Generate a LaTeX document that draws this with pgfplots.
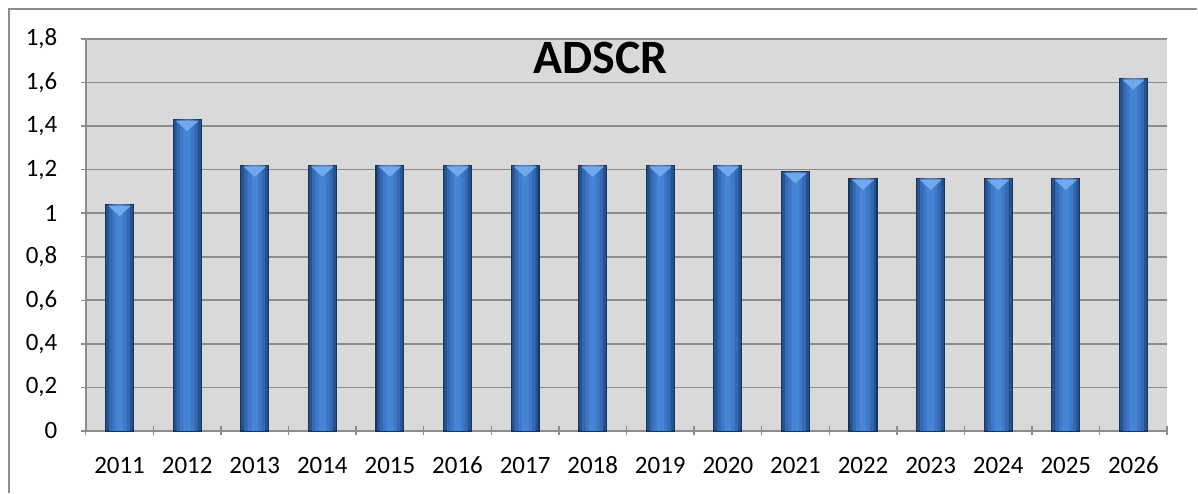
\documentclass[border=0pt]{standalone}
\usepackage{pgfplots}
\pgfplotsset{compat=1.18}
\usepackage{fontspec}
\setmainfont{Carlito}
\definecolor{plotbg}{HTML}{D9D9D9}
\definecolor{gridgray}{HTML}{8C8C8C}
\definecolor{barA}{HTML}{24528C}
\definecolor{barB}{HTML}{3468B0}
\definecolor{barC}{HTML}{3D79C8}
\definecolor{barD}{HTML}{4685D4}
\definecolor{bevel}{HTML}{6FAAEC}
\definecolor{baredge}{HTML}{16345C}
\pgfplotstableread{
x y
0 1.04
1 1.43
2 1.22
3 1.22
4 1.22
5 1.22
6 1.22
7 1.22
8 1.22
9 1.22
10 1.19
11 1.16
12 1.16
13 1.16
14 1.16
15 1.62
}\adscr
\begin{document}
\begin{tikzpicture}
\begin{axis}[
    at={(0pt,0pt)}, anchor=south west,
    scale only axis,
    width=542pt, height=196.5pt,
    ybar, bar shift=0pt,
    xmin=-0.5, xmax=15.5,
    ymin=0, ymax=1.8,
    xtick={0,...,15},
    xticklabels={2011,2012,2013,2014,2015,2016,2017,2018,2019,2020,2021,2022,2023,2024,2025,2026},
    minor xtick={-0.5,0.5,...,15.5},
    major x tick style={draw=none},
    minor x tick style={gridgray, line width=0.7pt},
    ytick={0,0.2,...,1.8},
    y tick style={gridgray, line width=0.7pt},
    tick align=outside,
    major tick length=4.5pt, minor tick length=4.5pt,
    axis lines=left, axis line style={-, gridgray, line width=0.9pt},
    ymajorgrids, grid style={gridgray, line width=0.9pt},
    axis background/.style={fill=plotbg},
    ticklabel style={font=\fontsize{12.5}{14}\selectfont, text=black},
    yticklabel style={xshift=-8.5pt},
    xticklabel style={yshift=-7pt, text height=8.5pt, text depth=0pt},
    /pgf/number format/.cd, use comma, fixed, precision=1, assume math mode=true,
    /pgfplots/.cd,
    title={\textbf{ADSCR}},
    title style={at={(0.476,1)}, anchor=north, yshift=-4pt, font=\fontsize{24}{27}\selectfont},
    clip=false,
  ]
\addplot[draw=baredge, line width=0.6pt, fill=barA, bar width=14pt] table {\adscr};
\addplot[draw=none, fill=barB, bar width=10.5pt] table {\adscr};
\addplot[draw=none, fill=barC, bar width=7pt] table {\adscr};
\addplot[draw=none, fill=barD, bar width=3.5pt] table {\adscr};
\addplot[only marks, mark=triangle*, mark size=3.3pt, color=bevel,
  mark options={fill=bevel, draw=bevel, line width=0.1pt, rotate=180, yshift=2.4pt, xscale=1.9}] table {\adscr};
\end{axis}
\draw[gridgray, line width=0.9pt] (-38.5pt,-31pt) -- (-38.5pt,211.5pt) -- (557pt,211.5pt);
\path[use as bounding box] (-43pt,-30pt) rectangle (556pt,216pt);
\end{tikzpicture}
\end{document}
